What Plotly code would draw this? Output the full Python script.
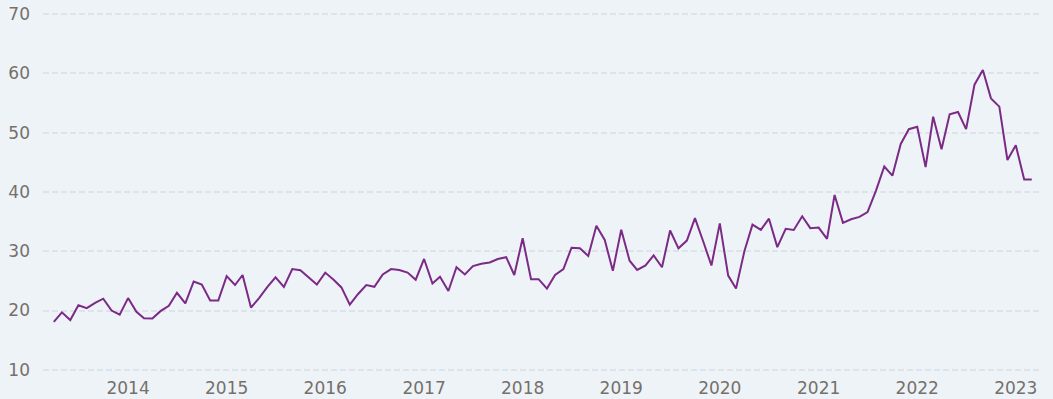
import pandas as pd
import plotly.graph_objects as go

start_month = "2013-04-01"
values = [
    18.1, 19.7, 18.4, 20.9, 20.4, 21.3, 22.0, 20.0, 19.3, 22.1,
    19.8, 18.7, 18.65, 19.9, 20.8, 23.0, 21.2, 24.9, 24.4, 21.7,
    21.7, 25.8, 24.3, 26.0, 20.5, 22.1, 24.0, 25.6, 24.0, 27.0,
    26.8, 25.6, 24.4, 26.4, 25.2, 23.9, 21.0, 22.75, 24.3, 24.0,
    26.1, 27.0, 26.85, 26.4, 25.2, 28.7, 24.55, 25.7, 23.3, 27.3,
    26.1, 27.5, 27.9, 28.1, 28.7, 29.0, 26.0, 32.2, 25.3, 25.3,
    23.7, 26.0, 27.0, 30.6, 30.5, 29.2, 34.3, 31.9, 26.7, 33.65,
    28.4, 26.85, 27.6, 29.3, 27.3, 33.5, 30.5, 31.8, 35.6, 31.6,
    27.6, 34.7, 25.9, 23.7, 30.0, 34.5, 33.6, 35.5, 30.7, 33.8,
    33.6, 35.9, 33.9, 34.0, 32.1, 39.5, 34.8, 35.4, 35.8, 36.6,
    40.2, 44.3, 42.75, 48.1, 50.6, 51.0, 44.2, 52.7, 47.2, 53.1,
    53.5, 50.6, 58.1, 60.6, 55.8, 54.4, 45.4, 47.9, 42.1, 42.1,
]
dates = pd.date_range(start_month, periods=len(values), freq="MS")

y_ticks = [10, 20, 30, 40, 50, 60, 70]
x_ticks = [f"{y}-01-01" for y in range(2014, 2024)]
x_tick_labels = [str(y) for y in range(2014, 2024)]

fig = go.Figure(
    go.Scatter(
        x=dates,
        y=values,
        mode="lines",
        line=dict(color="#7B2A86", width=2),
        hoverinfo="x+y",
    )
)

bg = "#EEF3F8"
fig.update_layout(
    width=1053,
    height=399,
    paper_bgcolor=bg,
    plot_bgcolor=bg,
    margin=dict(l=43, r=11, t=13, b=28, autoexpand=False),
    showlegend=False,
    font=dict(family="DejaVu Sans", size=17, color="#75706B"),
)
fig.update_xaxes(
    range=["2013-02-20", "2023-04-08"],
    tickvals=x_ticks,
    ticktext=x_tick_labels,
    showgrid=False,
    zeroline=False,
    showline=False,
    ticks="",
    ticklabelstandoff=5,
    automargin=False,
)
fig.update_yaxes(
    range=[9.8, 70.2],
    tickvals=y_ticks,
    showgrid=True,
    gridcolor="#DDE3E9",
    griddash="6px,3px",
    gridwidth=1.5,
    zeroline=False,
    showline=False,
    ticks="",
    ticklabelstandoff=12,
    automargin=False,
)

fig.write_html(
    "out.html",
    config={"displayModeBar": False},
    post_script="document.body.style.margin='0';document.body.style.background='#EEF3F8';",
)
